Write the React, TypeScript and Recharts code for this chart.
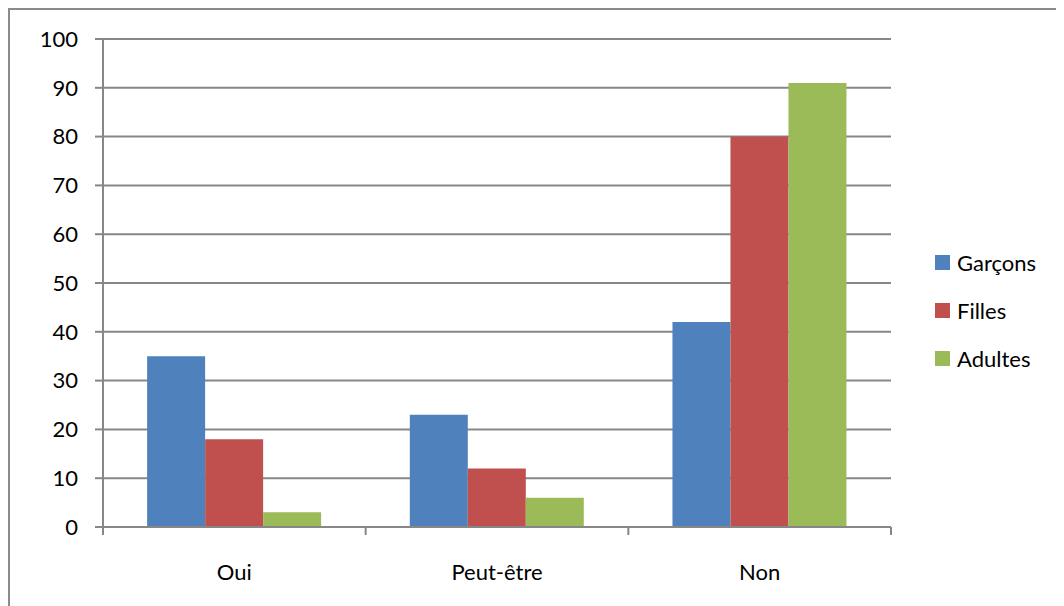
import { BarChart, Bar, XAxis, YAxis, CartesianGrid, Legend } from 'recharts'

const categories = ['Oui', 'Peut-être', 'Non']
const garcons = [35, 23, 42]
const filles = [18, 12, 80]
const adultes = [3, 6, 91]
const yTicks = [0, 10, 20, 30, 40, 50, 60, 70, 80, 90, 100]

const series = [
  { key: 'garcons', name: 'Garçons', color: '#4F81BD' },
  { key: 'filles', name: 'Filles', color: '#C0504D' },
  { key: 'adultes', name: 'Adultes', color: '#9BBB59' },
]

const data = categories.map((c, i) => ({
  label: c,
  garcons: garcons[i],
  filles: filles[i],
  adultes: adultes[i],
}))

const FONT = 'Lato, "Noto Sans", sans-serif'
const GRID = '#878787'

function CategoryTick(props: any) {
  const { x, y, payload, index } = props
  const half = payload?.offset || 131.3
  const last = index === categories.length - 1
  return (
    <g>
      <line x1={x - half} x2={x - half} y1={y - 8} y2={y} stroke={GRID} strokeWidth={2} />
      {last && <line x1={x + half} x2={x + half} y1={y - 8} y2={y} stroke={GRID} strokeWidth={2} />}
      <text x={x} y={y + 45} textAnchor="middle" fontSize={22} fontFamily={FONT} fill="#000">
        {payload.value}
      </text>
    </g>
  )
}

function LegendBox() {
  return (
    <div style={{ fontFamily: FONT, fontSize: 22 }}>
      {series.map(s => (
        <div key={s.key} style={{ display: 'flex', alignItems: 'center', height: 48 }}>
          <span style={{ width: 15, height: 15, background: s.color, marginRight: 7 }} />
          <span>{s.name}</span>
        </div>
      ))}
    </div>
  )
}

export default function App() {
  return (
    <div style={{ width: 1070, height: 610, border: '2px solid #8a8a8a', background: '#fff' }}>
      <BarChart
        width={1054}
        height={596}
        data={data}
        margin={{ top: 29, right: 173, bottom: 0, left: 0 }}
        barCategoryGap="16.8%"
        barGap={0}
      >
        <CartesianGrid vertical={false} stroke={GRID} strokeWidth={2} />
        <XAxis
          dataKey="label"
          height={79}
          axisLine={{ stroke: GRID, strokeWidth: 2 }}
          tickLine={false}
          tick={<CategoryTick />}
          interval={0}
        />
        <YAxis
          width={93}
          domain={[0, 100]}
          ticks={yTicks}
          interval={0}
          axisLine={{ stroke: GRID, strokeWidth: 2 }}
          tickLine={{ stroke: GRID, strokeWidth: 2 }}
          tickSize={8}
          tickMargin={17}
          tick={{ fontSize: 22, fontFamily: FONT, fill: '#000' }}
        />
        {series.map(s => (
          <Bar key={s.key} dataKey={s.key} name={s.name} fill={s.color} isAnimationActive={false} />
        ))}
        <Legend
          layout="vertical"
          align="center"
          verticalAlign="middle"
          content={<LegendBox />}
          wrapperStyle={{ left: 925, top: 228, width: 140 }}
        />
      </BarChart>
    </div>
  )
}
